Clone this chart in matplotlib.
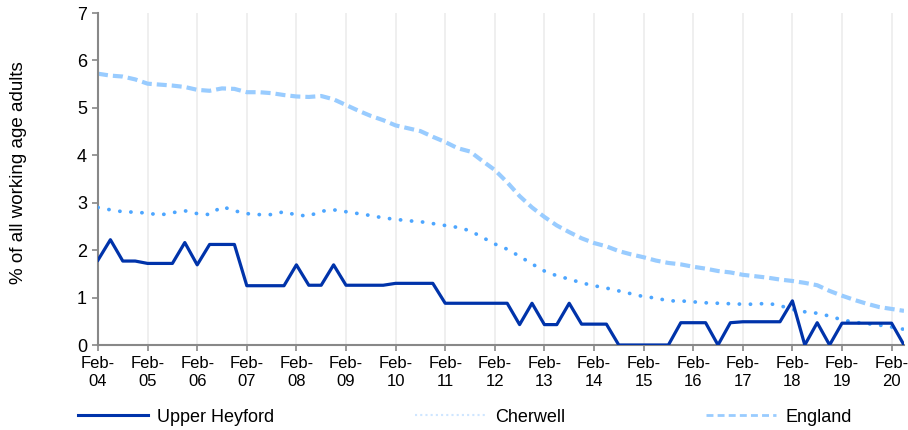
import matplotlib
matplotlib.use("Agg")
import matplotlib.pyplot as plt
from matplotlib.lines import Line2D
import numpy as np

# quarterly series, Feb-04 .. May-20
upper_heyford = [1.79, 2.22, 1.77, 1.77, 1.72, 1.72, 1.72, 2.16, 1.69, 2.12,
                 2.12, 2.12, 1.25, 1.25, 1.25, 1.25, 1.69, 1.26, 1.26, 1.69,
                 1.26, 1.26, 1.26, 1.26, 1.30, 1.30, 1.30, 1.30, 0.88, 0.88,
                 0.88, 0.88, 0.88, 0.88, 0.43, 0.88, 0.43, 0.43, 0.88, 0.44,
                 0.44, 0.44, 0.0, 0.0, 0.0, 0.0, 0.0, 0.47, 0.47, 0.47,
                 0.0, 0.47, 0.49, 0.49, 0.49, 0.49, 0.93, 0.0, 0.47, 0.0,
                 0.46, 0.46, 0.46, 0.46, 0.46, 0.0]

cherwell = [2.90, 2.85, 2.81, 2.80, 2.78, 2.74, 2.79, 2.83, 2.77, 2.75,
            2.92, 2.83, 2.77, 2.75, 2.75, 2.81, 2.74, 2.72, 2.82, 2.85,
            2.81, 2.77, 2.73, 2.68, 2.65, 2.62, 2.60, 2.56, 2.52, 2.48,
            2.41, 2.27, 2.13, 2.02, 1.87, 1.71, 1.56, 1.46, 1.39, 1.31,
            1.25, 1.20, 1.14, 1.08, 1.02, 0.99, 0.93, 0.93, 0.91, 0.89,
            0.88, 0.87, 0.86, 0.86, 0.88, 0.83, 0.75, 0.70, 0.67, 0.61,
            0.53, 0.48, 0.45, 0.42, 0.38, 0.33]

england = [5.72, 5.68, 5.66, 5.60, 5.51, 5.49, 5.47, 5.44, 5.38, 5.36,
           5.41, 5.40, 5.33, 5.33, 5.31, 5.27, 5.24, 5.23, 5.25, 5.18,
           5.06, 4.94, 4.83, 4.74, 4.63, 4.57, 4.51, 4.39, 4.28, 4.15,
           4.08, 3.88, 3.69, 3.43, 3.14, 2.90, 2.70, 2.52, 2.38, 2.25,
           2.15, 2.08, 1.98, 1.91, 1.85, 1.78, 1.73, 1.70, 1.65, 1.61,
           1.56, 1.53, 1.48, 1.45, 1.42, 1.38, 1.35, 1.31, 1.26, 1.14,
           1.04, 0.95, 0.87, 0.80, 0.76, 0.72]

series_names = ["Upper Heyford", "Cherwell", "England"]
year_labels = ["Feb-\n%02d" % y for y in range(4, 21)]

x = np.arange(len(upper_heyford))

fig = plt.figure(figsize=(9.08, 4.30), dpi=100)
ax = fig.add_axes([98 / 908, 1 - 345 / 430, 806 / 908, 332 / 430])

ax.plot(x, england, color="#99ccff", lw=3.0, ls=(0, (2.4, 1.2)), zorder=2)
ax.plot(x, cherwell, color="#4da6ff", lw=2.7, ls=(0, (0.05, 2.9)),
        dash_capstyle="round", zorder=3)
ax.plot(x, upper_heyford, color="#0033aa", lw=2.3, zorder=4)

ax.set_xlim(0, len(x) - 1)
ax.set_ylim(0, 7)
ax.set_xticks(np.arange(0, len(x), 4))
ax.set_xticklabels(year_labels, fontsize=12,
                   family=["Liberation Sans Narrow", "Liberation Sans"],
                   linespacing=1.25)
ax.set_yticks(range(8))
ax.tick_params(axis="y", labelsize=13, length=4, width=1.2, color="#888888",
               pad=4)
ax.tick_params(axis="x", length=4, width=1.2, color="#888888", pad=4)
for lab in ax.get_yticklabels():
    lab.set_family("Liberation Sans")

ax.grid(axis="x", color="#ececec", lw=1.2)
ax.set_axisbelow(True)
for s in ["top", "right"]:
    ax.spines[s].set_visible(False)
for s in ["left", "bottom"]:
    ax.spines[s].set_color("#888888")
    ax.spines[s].set_linewidth(1.5)

ax.set_ylabel("% of all working age adults", fontsize=13.5,
              family="Liberation Sans")
ax.yaxis.set_label_coords(-71 / 806, 0.52)

# legend keys as drawn in the source (thin, pale swatches)
handles = [
    Line2D([], [], color="#0033aa", lw=2.2),
    Line2D([], [], color="#cfe6ff", lw=1.5, ls=(0, (1, 1.5))),
    Line2D([], [], color="#99ccff", lw=2.0, ls=(0, (2.5, 1.5))),
]
fig.legend(handles, series_names, loc="center left",
           bbox_to_anchor=(78 / 908, 1 - 417 / 430), ncol=3, frameon=False,
           borderaxespad=0, borderpad=0, handlelength=3.9, handletextpad=0.5,
           columnspacing=7.8, prop={"family": "Liberation Sans", "size": 13})

fig.savefig("out.png", dpi=100)
